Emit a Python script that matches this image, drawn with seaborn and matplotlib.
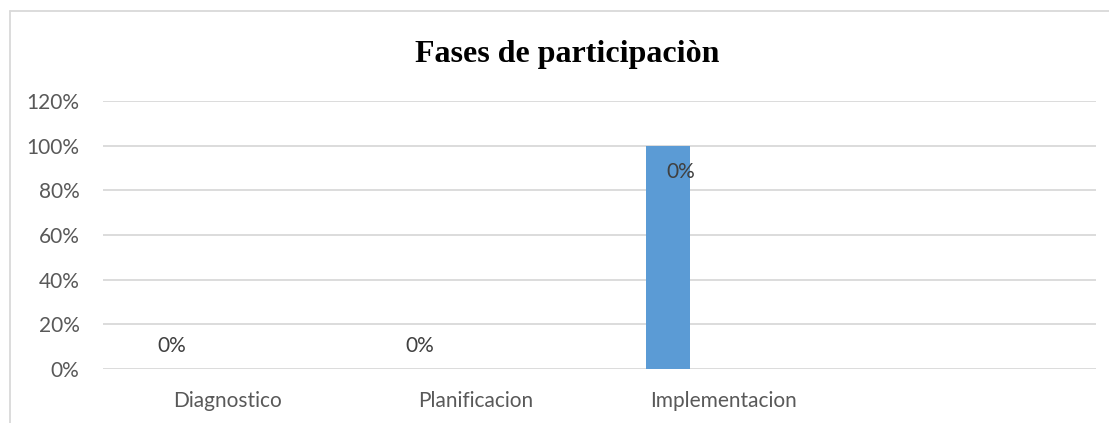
import matplotlib
matplotlib.use("Agg")
import matplotlib.pyplot as plt
import seaborn as sns
import pandas as pd
import numpy as np
from matplotlib.ticker import PercentFormatter
from matplotlib.lines import Line2D

categories = ["Diagnostico", "Planificacion", "Implementacion", ""]
series_names = ["Serie 1", "Serie 2", "Serie 3"]
serie1_values = [0.0, 0.0, 1.0, 0.0]
serie2_values = [0.0, 0.0, 0.0, 0.0]
serie3_values = [0.0, 0.0, 0.0, 0.0]
label_texts = ["0%", "0%", "0%"]
yticks = [0, 0.2, 0.4, 0.6, 0.8, 1.0, 1.2]

sns.set_theme(style="white")
plt.rcParams["font.family"] = ["Lato", "DejaVu Sans"]

rows = []
for name, vals in zip(series_names, [serie1_values, serie2_values, serie3_values]):
    for c, v in zip(categories, vals):
        rows.append({"fase": c, "valor": v, "serie": name})
df = pd.DataFrame(rows)

fig = plt.figure(figsize=(11.09, 4.23), dpi=100)
ax = fig.add_axes([0.0929, 0.1277, 0.8951, 0.6336])

sns.barplot(data=df, x="fase", y="valor", hue="serie", order=categories,
            hue_order=series_names, palette=["#5B9BD5", "#ED7D31", "#A5A5A5"],
            width=0.666, gap=0.2, ax=ax, legend=False, errorbar=None,
            saturation=1, linewidth=0)

ax.set_ylim(0, 1.2)
ax.set_xlim(-0.5, 3.5)
ax.set_yticks(yticks)
ax.yaxis.set_major_formatter(PercentFormatter(1.0, decimals=0))
ax.grid(axis="y", color="#D9D9D9", linewidth=1.3)
ax.set_axisbelow(True)
for s in ax.spines.values():
    s.set_visible(False)
ax.tick_params(axis="both", length=0, labelsize=15, colors="#595959")
ax.tick_params(axis="y", pad=17)
ax.tick_params(axis="x", pad=16)
ax.set_xlabel("")
ax.set_ylabel("")

# data labels on the Serie 1 bars (first three categories)
s1_bars = sorted(ax.containers[0].patches, key=lambda p: p.get_x())[:3]
for p, txt in zip(s1_bars, label_texts):
    cx = p.get_x() + p.get_width() / 2
    h = p.get_height()
    y = h - 0.12 if h > 0 else 0.105
    ax.text(cx + (0.05 if h > 0 else 0), y, txt, ha="center", va="center",
            fontsize=15, color="#404040")

fig.text(0.511, 0.872, "Fases de participaciòn", ha="center", va="center",
         fontsize=23, fontweight="bold", family="Liberation Serif", color="black")

# chart frame
fig.add_artist(Line2D([10/1109, 1.0], [1 - 11/423, 1 - 11/423], color="#D9D9D9", lw=1.3,
                      transform=fig.transFigure))
fig.add_artist(Line2D([10/1109, 10/1109], [0, 1 - 11/423], color="#D9D9D9", lw=1.3,
                      transform=fig.transFigure))

fig.savefig("out.png", dpi=100)
